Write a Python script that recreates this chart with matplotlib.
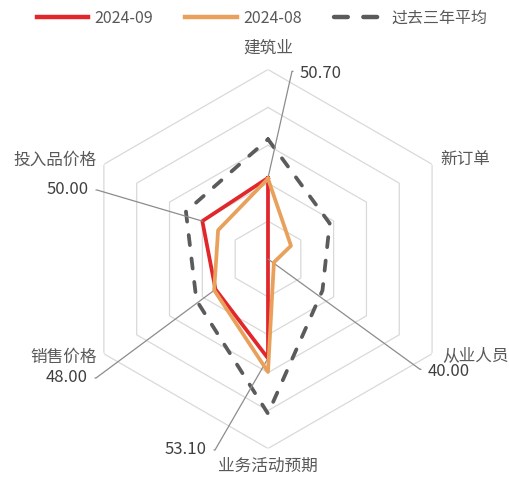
import matplotlib.pyplot as plt
import numpy as np

plt.rcParams['font.family'] = ['Noto Sans CJK SC', 'DejaVu Sans']

# data
categories = ['建筑业', '新订单', '从业人员', '业务活动预期', '销售价格', '投入品价格']
sep_2024 = [50.7, 40.0, 40.0, 53.1, 48.0, 50.0]
aug_2024 = [50.6, 43.5, 40.9, 54.9, 48.2, 47.6]
avg_3y = [55.8, 49.4, 48.3, 60.4, 50.9, 52.5]
ring_values = [45, 50, 55, 60, 65]
r_min, r_max = 40, 65

# which 2024-09 values get a leader label
labelled = [0, 2, 3, 4, 5]

# layout for labels (figure pixels, origin bottom left)
value_text_pos = {0: (300, 409, 'left'), 2: (428, 111, 'left'),
                  3: (207, 32, 'right'), 4: (88, 104, 'right'),
                  5: (89, 292, 'right')}
cat_r = [67.8, 66.2, 66.5, 67.4, 66.05, 66.05]
cat_ha = ['center', 'left', 'left', 'center', 'right', 'right']
cat_dy = [0, 0, 4, 0, 0, 0]

fig = plt.figure(figsize=(5.09, 4.82), dpi=100)
ax = fig.add_axes([0.1542, 0.0695, 0.7446, 0.7863], projection='polar')
ax.set_theta_zero_location('N')
ax.set_theta_direction(-1)
ax.set_ylim(r_min, r_max)
ax.grid(False)
ax.spines['polar'].set_visible(False)
ax.set_xticks([])
ax.set_yticks([])
ax.patch.set_visible(False)

angles = np.linspace(0, 2 * np.pi, len(categories), endpoint=False)
closed = np.append(angles, angles[0])


def close(v):
    return np.append(v, v[0])


# hexagon grid
for rv in ring_values:
    ax.plot(closed, [rv] * len(closed), color='#d9d9d9', lw=0.9, zorder=1)

l_avg, = ax.plot(closed, close(avg_3y), color='#5b5b5b', lw=2.7,
                 linestyle=(0, (2.7, 3.6)), dash_capstyle='round',
                 zorder=2, label='过去三年平均')
l_sep, = ax.plot(closed, close(sep_2024), color='#e1262c', lw=2.7,
                 zorder=3, label='2024-09')
l_aug, = ax.plot(closed, close(aug_2024), color='#e8a05a', lw=2.7,
                 zorder=4, label='2024-08')

# category names
for a, name, r, ha, dy in zip(angles, categories, cat_r, cat_ha, cat_dy):
    ax.annotate(name, xy=(a, r), xytext=(0, dy), textcoords='offset pixels',
                ha=ha, va='center', fontsize=12, color='#595959',
                annotation_clip=False)

# value labels with leader lines
for i in labelled:
    x, y, ha = value_text_pos[i]
    if ha == 'left':
        relpos, angA = (0, 0.6), 180
    else:
        relpos, angA = (1, 0.5), 0
    ax.annotate('%.2f' % sep_2024[i], xy=(angles[i], sep_2024[i]),
                xytext=(x, y), textcoords='figure pixels',
                ha=ha, va='center', fontsize=12, color='#404040',
                annotation_clip=False,
                arrowprops=dict(arrowstyle='-', color='#8c8c8c', lw=0.9,
                                shrinkA=3, shrinkB=0, relpos=relpos,
                                connectionstyle='arc,angleA=%d,armA=8,angleB=0,armB=0,rad=0' % angA))

leg = fig.legend(handles=[l_sep, l_aug, l_avg], loc='upper center',
                 bbox_to_anchor=(0.515, 1.01), ncol=3, frameon=False,
                 fontsize=11.5, handlelength=3.2, columnspacing=2.0,
                 handletextpad=0.4)
for t in leg.get_texts():
    t.set_color('#595959')
for ln in leg.get_lines():
    ln.set_linewidth(3.2)
leg.get_lines()[2].set_linestyle((0, (3.1, 3.5)))

fig.savefig('out.png', dpi=100)
